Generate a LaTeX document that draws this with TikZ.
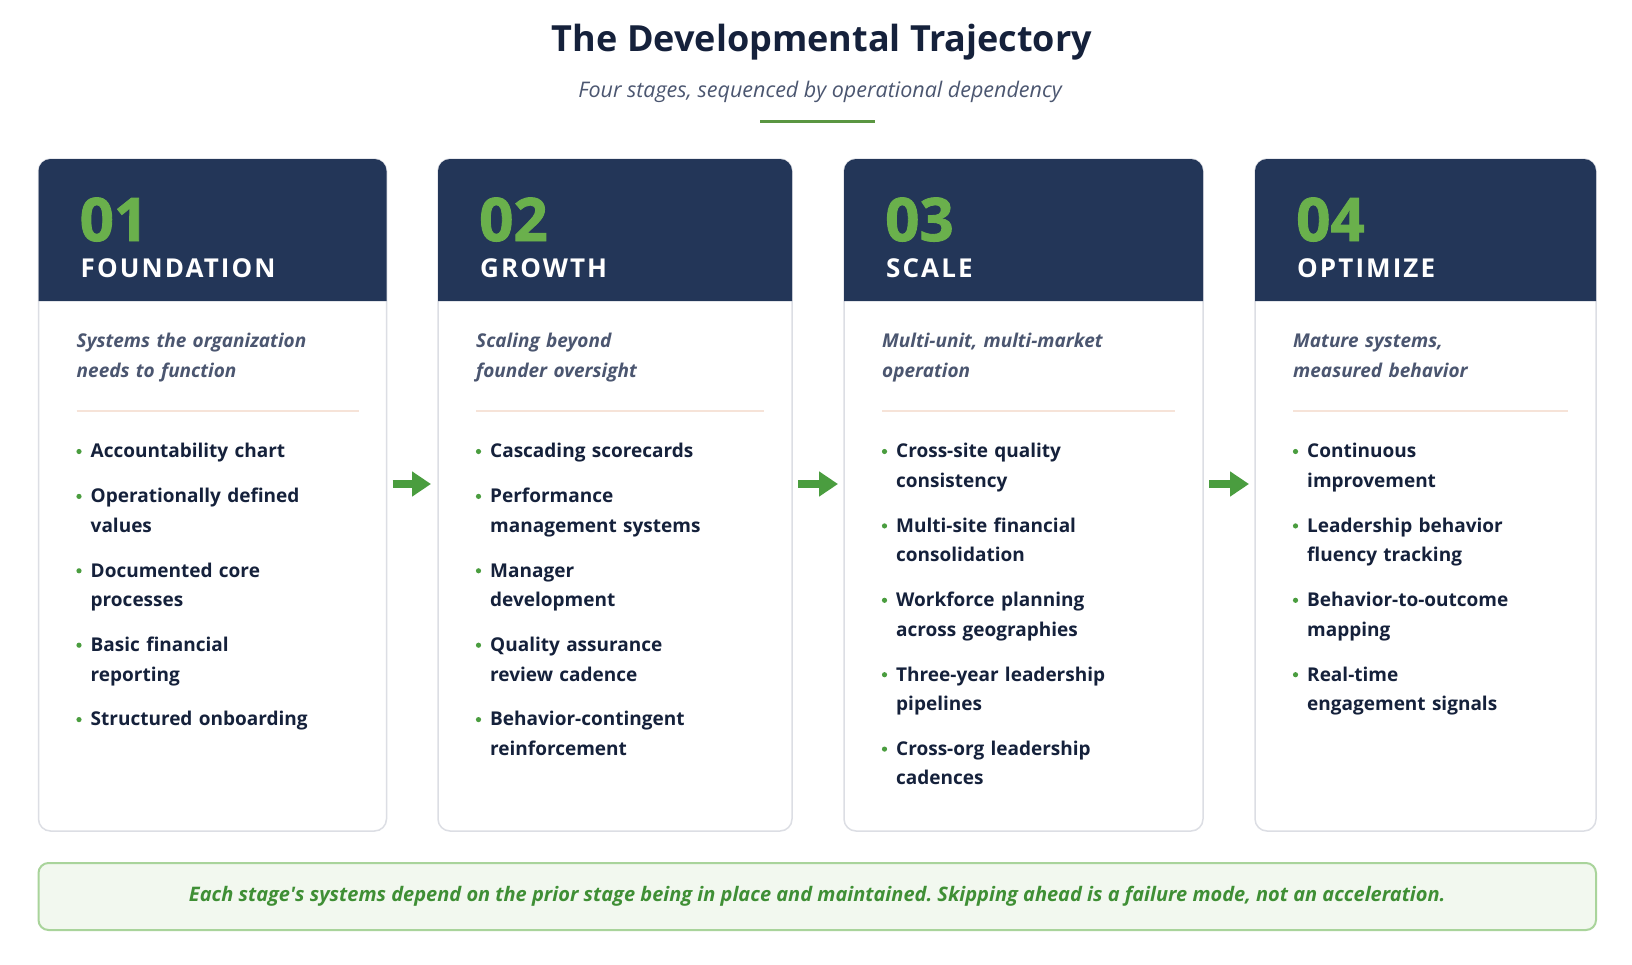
\documentclass[tikz,border=0pt]{standalone}
\usepackage{fontspec}
\setmainfont{Open Sans}
\usetikzlibrary{positioning,arrows.meta}
\frenchspacing

\definecolor{navyc}{HTML}{233658}
\definecolor{inkc}{HTML}{15213B}
\definecolor{greyc}{HTML}{4B5670}
\definecolor{numc}{HTML}{6AB04C}
\definecolor{flowc}{HTML}{4A9D3F}
\definecolor{cardline}{HTML}{DCDEE4}
\definecolor{peachc}{HTML}{F6E3D8}
\definecolor{footfill}{HTML}{F2F8EF}
\definecolor{footline}{HTML}{A9D49B}
\definecolor{foottext}{HTML}{3F8F35}

\tikzset{
  card/.style={draw=cardline,line width=1.5pt,fill=white,rounded corners=12pt,
    anchor=north west,minimum height=672pt,inner sep=0pt,outer sep=0pt},
  stnum/.style={anchor=base west,inner sep=0pt,text=numc,
    font=\fontsize{60}{62}\selectfont\bfseries\addfontfeature{FakeBold=1.5}},
  sttag/.style={anchor=base west,inner sep=0pt,text=white,
    font=\fontsize{26}{30}\selectfont\bfseries\addfontfeature{LetterSpace=8}},
  stsub/.style={anchor=north west,inner sep=0pt,text=greyc,text width=300pt,
    font=\fontsize{19}{30}\selectfont\bfseries\itshape},
  stitem/.style={anchor=north west,inner sep=0pt,text=inkc,text width=290pt,
    font=\fontsize{19}{29.5}\selectfont\bfseries},
  flow/.style={draw=flowc,line width=8pt,-{Triangle[length=19pt,width=24pt]}},
}

\newcommand{\stagelist}[2]{%
  \foreach \t [count=\j, remember=\j as \k (initially 0)] in {#2}{
    \ifnum\j=1
      \node[stitem] (#1-it\j) at ([shift={(52,278)}]#1.north west) {\strut\t\strut};
    \else
      \node[stitem,below=15pt of #1-it\k.south west,anchor=north west] (#1-it\j) {\strut\t\strut};
    \fi
    \fill[flowc] ([shift={(-11.5,14.5)}]#1-it\j.north west) circle (2.6pt);
  }}

\begin{document}
\begin{tikzpicture}[x=1pt,y=-1pt]
 \useasboundingbox[fill=white] (0,0) rectangle (1632,964);

 % heading
 \node[text=inkc,font=\fontsize{36}{40}\selectfont\bfseries] (title) at (822,42.5) {The Developmental Trajectory};
 \node[text=greyc,font=\fontsize{21.5}{24}\selectfont\itshape] (subtitle) at (820,91.5) {Four stages, sequenced by operational dependency};
 \draw[numc!85!black,line width=3pt] (760,121) -- (875,121);

 % the four cards
 \foreach \i/\lx/\w/\nm/\tag/\sub in {
   1/38.5/348/01/FOUNDATION/{Systems the organization\\needs to function},
   2/438/354/02/GROWTH/{Scaling beyond\\founder oversight},
   3/844/359/03/SCALE/{Multi-unit, multi-market\\operation},
   4/1255/341/04/OPTIMIZE/{Mature systems,\\measured behavior}}{
   \node[card,minimum width=\w pt] (c\i) at (\lx,159) {};
   \fill[navyc] ([yshift=-142pt]c\i.north west) [rounded corners=12pt] -- (c\i.north west)
     -- (c\i.north east) [sharp corners] -- ([yshift=-142pt]c\i.north east) -- cycle;
   \node[stnum] (n\i) at ([shift={(41,82)}]c\i.north west) {\nm};
   \node[sttag] (t\i) at ([shift={(42,118)}]c\i.north west) {\tag};
   \node[stsub] (s\i) at ([shift={(38,167)}]c\i.north west) {\strut\sub\strut};
   \draw[peachc,line width=1.5pt] ([shift={(38,252)}]c\i.north west) -- ([shift={(-28,252)}]c\i.north east);
 }

 \stagelist{c1}{Accountability chart,Operationally defined\\values,Documented core\\processes,
   Basic financial\\reporting,Structured onboarding}
 \stagelist{c2}{Cascading scorecards,Performance\\management systems,Manager\\development,
   Quality assurance\\review cadence,Behavior-contingent\\reinforcement}
 \stagelist{c3}{Cross-site quality\\consistency,Multi-site financial\\consolidation,
   Workforce planning\\across geographies,Three-year leadership\\pipelines,
   Cross-org leadership\\cadences}
 \stagelist{c4}{Continuous\\improvement,Leadership behavior\\fluency tracking,
   Behavior-to-outcome\\mapping,Real-time\\engagement signals}

 % arrows between stages
 \draw[flow] ([shift={(6,-11)}]c1.east) -- ([shift={(-7,-11)}]c2.west);
 \draw[flow] ([shift={(6,-11)}]c2.east) -- ([shift={(-6,-11)}]c3.west);
 \draw[flow] ([shift={(6,-11)}]c3.east) -- ([shift={(-6,-11)}]c4.west);

 % closing note
 \node[draw=footline,fill=footfill,line width=2pt,rounded corners=10pt,
   minimum width=1557.5pt,minimum height=67pt,text=foottext,
   font=\fontsize{20}{24}\selectfont\bfseries\itshape] (note) at (817.25,896.5)
   {Each stage\textquotesingle s systems depend on the prior stage being in place and maintained. Skipping ahead is a failure mode, not an acceleration.};
\end{tikzpicture}
\end{document}
